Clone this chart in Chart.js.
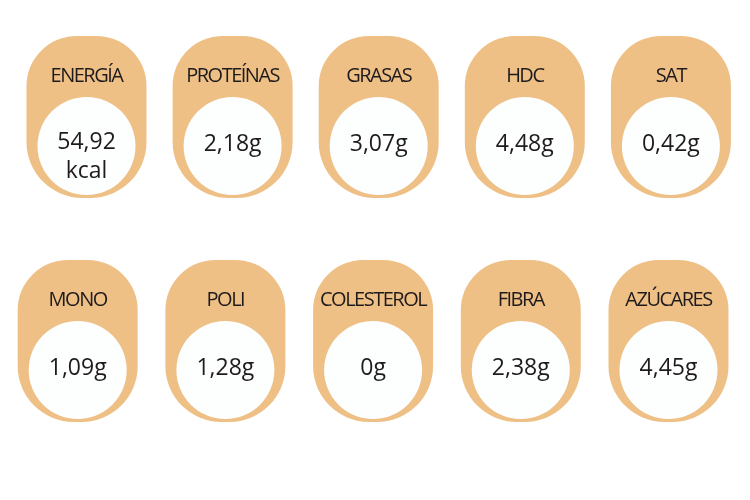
<!DOCTYPE html>
<html>
<head>
<meta charset="utf-8">
<script src="https://cdn.jsdelivr.net/npm/chart.js@4.4.0/dist/chart.umd.min.js"></script>
<style>
    body { margin: 0; background: #ffffff; }
    #wrap { width: 750px; height: 500px; }
</style>
</head>
<body>
<div id="wrap"><canvas id="nutriChart" width="750" height="500"></canvas></div>
<script>
// valores nutricionales (por ración)
const nutrientes = ['ENERGÍA', 'PROTEÍNAS', 'GRASAS', 'HDC', 'SAT',
                    'MONO', 'POLI', 'COLESTEROL', 'FIBRA', 'AZÚCARES'];
const valores = [54.92, 2.18, 3.07, 4.48, 0.42,
                 1.09, 1.28, 0, 2.38, 4.45];
const unidades = ['kcal', 'g', 'g', 'g', 'g',
                  'g', 'g', 'g', 'g', 'g'];

const COLS = 5;
const ORANGE = '#eec086';
const INK = '#1f1b1c';

function formatValue(v) {
    return String(v).replace('.', ',');
}

// one dataset per row, column index on x, row index on y
const rowPoints = [[], []];
nutrientes.forEach((name, i) => {
    rowPoints[Math.floor(i / COLS)].push({ x: i % COLS, y: Math.floor(i / COLS), idx: i });
});

const pillPlugin = {
    id: 'pills',
    beforeDatasetsDraw(chart) {
        const ctx = chart.ctx;
        ctx.save();
        ctx.fillStyle = ORANGE;
        chart.data.datasets.forEach((ds, d) => {
            chart.getDatasetMeta(d).data.forEach(el => {
                ctx.beginPath();
                ctx.roundRect(el.x - 60, el.y - 110, 120, 162, [50, 50, 56, 56]);
                ctx.fill();
            });
        });
        ctx.restore();
    },
    afterDatasetsDraw(chart) {
        const ctx = chart.ctx;
        ctx.save();
        ctx.fillStyle = INK;
        ctx.textAlign = 'center';
        ctx.textBaseline = 'middle';
        chart.data.datasets.forEach((ds, d) => {
            chart.getDatasetMeta(d).data.forEach((el, j) => {
                const i = ds.data[j].idx;
                ctx.font = "20px 'Open Sans', 'Noto Sans', sans-serif";
                ctx.letterSpacing = '-1.5px';
                ctx.fillText(nutrientes[i], el.x, el.y - 70, 110);

                ctx.font = "500 23px 'Open Sans', 'Noto Sans', sans-serif";
                ctx.letterSpacing = '0px';
                if (unidades[i] === 'kcal') {
                    ctx.fillText(formatValue(valores[i]), el.x, el.y - 4);
                    ctx.fillText(unidades[i], el.x, el.y + 25);
                } else {
                    ctx.fillText(formatValue(valores[i]) + unidades[i], el.x, el.y - 2);
                }
            });
        });
        ctx.restore();
    }
};

// chart area is inset by the point radius (49px), ranges below account for it
new Chart(document.getElementById('nutriChart'), {
    type: 'scatter',
    data: {
        datasets: [{
            data: rowPoints[0],
            xAxisID: 'x',
            yAxisID: 'y',
            clip: false,
        }, {
            data: rowPoints[1],
            xAxisID: 'x2',
            yAxisID: 'y',
            clip: false,
        }]
    },
    options: {
        responsive: false,
        animation: false,
        events: [],
        layout: { padding: 0 },
        elements: {
            point: {
                radius: 49,
                hoverRadius: 49,
                backgroundColor: '#fdfefe',
                borderWidth: 0,
            }
        },
        plugins: {
            legend: { display: false },
            tooltip: { enabled: false },
        },
        scales: {
            x: { type: 'linear', display: false, min: -0.2567, max: 4.206 },
            x2: { type: 'linear', display: false, min: -0.1942, max: 4.2201 },
            y: { type: 'linear', display: false, reverse: true, min: -0.433, max: 1.3616 },
        }
    },
    plugins: [pillPlugin]
});
</script>
</body>
</html>
